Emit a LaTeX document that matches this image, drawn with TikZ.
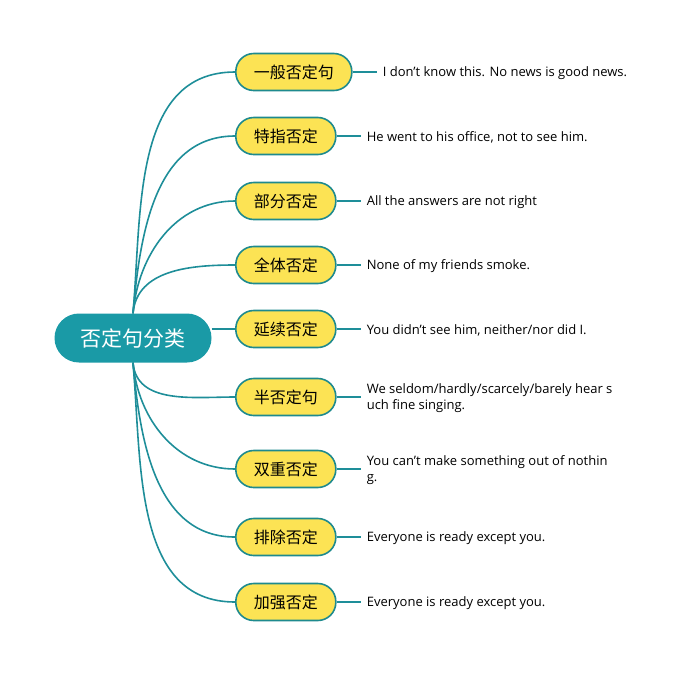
\documentclass[tikz,border=0pt]{standalone}
\usepackage{fontspec}
\setmainfont{Open Sans}
\newfontfamily\cjk{Noto Sans CJK SC}
\usepackage{tikz}
\usetikzlibrary{positioning}

\definecolor{rootfill}{HTML}{1A9AA6}
\definecolor{topicfill}{HTML}{FCE354}
\definecolor{topicline}{HTML}{1E8A8E}
\definecolor{branchline}{HTML}{1E8E99}

\tikzset{
	rootnode/.style={fill=rootfill,text=white,rounded corners=24.5pt,
		minimum height=49pt,inner xsep=26pt,inner ysep=0pt,
		font=\cjk\fontsize{21}{25}\selectfont},
	topic/.style={draw=topicline,fill=topicfill,line width=1.6pt,
		rounded corners=18pt,minimum height=37pt,inner xsep=18pt,inner ysep=0pt,
		anchor=west,font=\cjk\fontsize{16}{19}\selectfont},
	leaf/.style={inner xsep=6pt,inner ysep=0pt,align=left,
		font=\fontsize{13}{16}\selectfont},
	branch/.style={draw=branchline,line width=1.6pt}
}

\begin{document}
\begin{tikzpicture}[x=1pt,y=-1pt]
		\useasboundingbox (0,0) rectangle (688,675);
		\node[rootnode] (root) at (133,338) {否定句分类};
		% topics
		\foreach \i/\y/\t in {1/72/一般否定句,2/136/特指否定,3/201/部分否定,
			4/265/全体否定,5/329/延续否定,6/397/半否定句,7/469/双重否定,
			8/537/排除否定,9/602/加强否定}
			\node[topic] (c\i) at (235,\y) {\t};
		% examples
		\foreach \i/\t in {1/{I don't know this. No news is good news.},
			2/{He went to his office, not to see him.},
			3/{All the answers are not right},
			4/{None of my friends smoke.},
			5/{You didn't see him, neither/nor did I.},
			6/{We seldom/hardly/scarcely/barely hear s\\uch fine singing.},
			7/{You can't make something out of nothin\\g.},
			8/{Everyone is ready except you.},
			9/{Everyone is ready except you.}}
		{
			\node[leaf,right=24pt of c\i,anchor=west,yshift=-1pt] (l\i) {\t};
			\draw[branch] (c\i.east) -- (c\i.east -| l\i.west);
		}
		% branches
		\foreach \i in {1,...,4}
			\draw[branch] (root.north) to[out=85,in=180] (c\i.west);
		\draw[branch] (root.east |- c5.west) -- (c5.west);
		\foreach \i in {6,...,9}
			\draw[branch] (root.south) to[out=-85,in=180] (c\i.west);
	\end{tikzpicture}
\end{document}
